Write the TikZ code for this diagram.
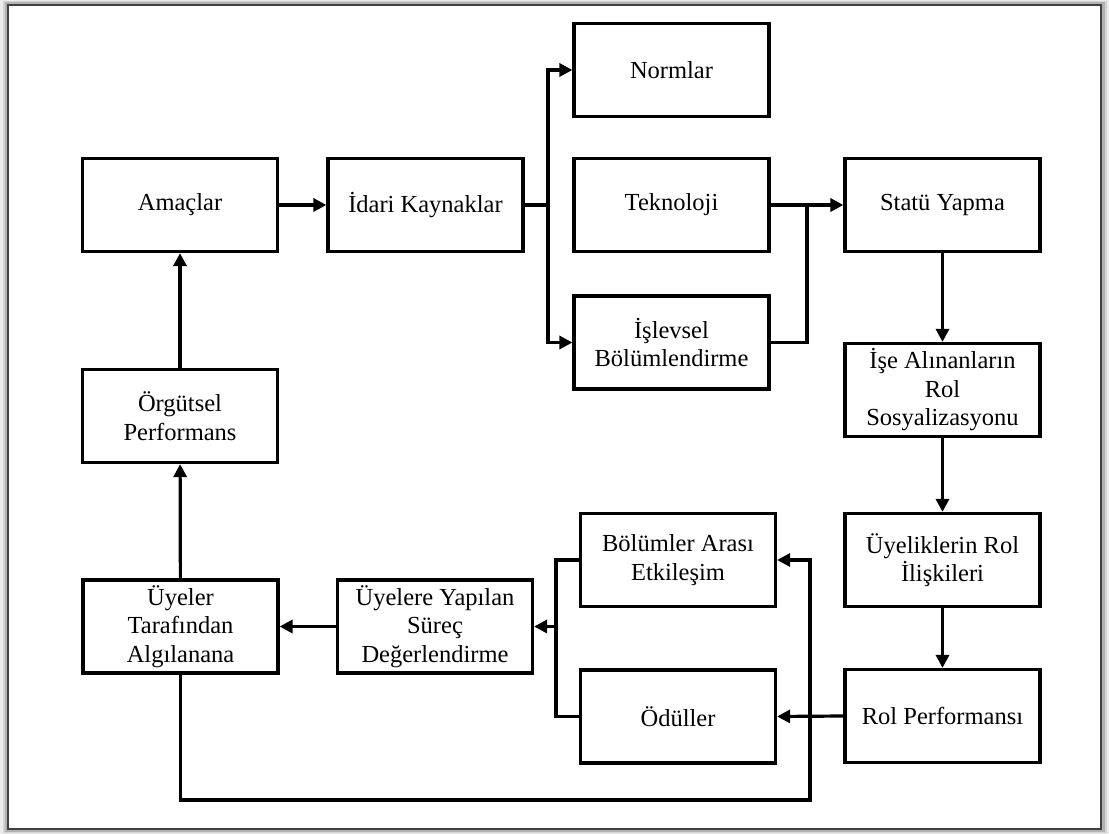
\documentclass[tikz,border=0pt]{standalone}
\usepackage{fontspec}
\setmainfont{Liberation Serif}
\usetikzlibrary{arrows.meta}
\begin{document}
\begin{tikzpicture}[x=1pt,y=-1pt,
  box/.style={draw=black, line width=3.2pt, fill=white, minimum width=195pt, minimum height=93pt,
    inner sep=2pt, align=center, font=\fontsize{24.5}{28.5}\selectfont},
  conn/.style={line width=3.2pt, draw=black},
  arr/.style={conn, -{Triangle[length=13pt,width=13pt]}}]
\useasboundingbox (0,0) rectangle (1109,834);
% frame with soft shadow
\fill[gray!15] (0,0) rectangle (1109,834);
\fill[gray!35] (3,1) rectangle (1107,833);
\fill[gray!60] (5,2) rectangle (1105,832);
\fill[white] (9,6) rectangle (1100,828);
\draw[line width=2.4pt, gray!50!black] (8,5) rectangle (1101,829);

% nodes
\node[box] (amac)   at (180,205)   {Amaçlar};
\node[box] (idari)  at (425.5,205) {İdari Kaynaklar};
\node[box] (norm)   at (671.5,70)  {Normlar};
\node[box] (tekno)  at (671.5,205) {Teknoloji};
\node[box] (islev)  at (671.5,342.5) {İşlevsel\\Bölümlendirme};
\node[box] (statu)  at (942.5,205) {Statü Yapma};
\node[box] (ise)    at (942.5,390) {İşe Alınanların\\Rol\\Sosyalizasyonu};
\node[box] (uyelik) at (942.5,560) {Üyeliklerin Rol\\İlişkileri};
\node[box] (rolp)   at (942.5,716) {Rol Performansı};
\node[box] (bolum)  at (678,560)   {Bölümler Arası\\Etkileşim};
\node[box] (odul)   at (678,716.5) {Ödüller};
\node[box] (surec)  at (435,626.5) {Üyelere Yapılan\\Süreç\\Değerlendirme};
\node[box] (uyeler) at (180.5,626.5) {Üyeler\\Tarafından\\Algılanana};
\node[box] (orgut)  at (180,416)   {Örgütsel\\Performans};

% junction coordinates
\coordinate (split) at (548,205);
\coordinate (merge) at (807,205);
\coordinate (join)  at (556,626.5);
\coordinate (fb1)   at (180.5,800);
\coordinate (fb2)   at (810,800);

% connectors
\draw[arr] (amac) -- (idari);
\draw[conn] (idari.east) -- (split);
\draw[arr] (split) |- (norm.west);
\draw[arr] (split) |- (islev.west);
\draw[arr] (tekno.east) -- (statu.west);
\draw[conn] (islev.east) -| (merge);
\draw[arr] (statu) -- (ise);
\draw[arr] (ise) -- (uyelik);
\draw[arr] (uyelik) -- (rolp);
\draw[arr] (rolp.west) -- (odul.east);
\draw[conn] (bolum.west) -| (join);
\draw[conn] (odul.west) -| (join);
\draw[arr] (join) -- (surec.east);
\draw[arr] (surec) -- (uyeler);
\draw[arr] (uyeler) -- (orgut);
\draw[arr] (orgut) -- (amac);
\draw[arr] (uyeler.south) -- (fb1) -- (fb2) |- (bolum.east);
\end{tikzpicture}
\end{document}
